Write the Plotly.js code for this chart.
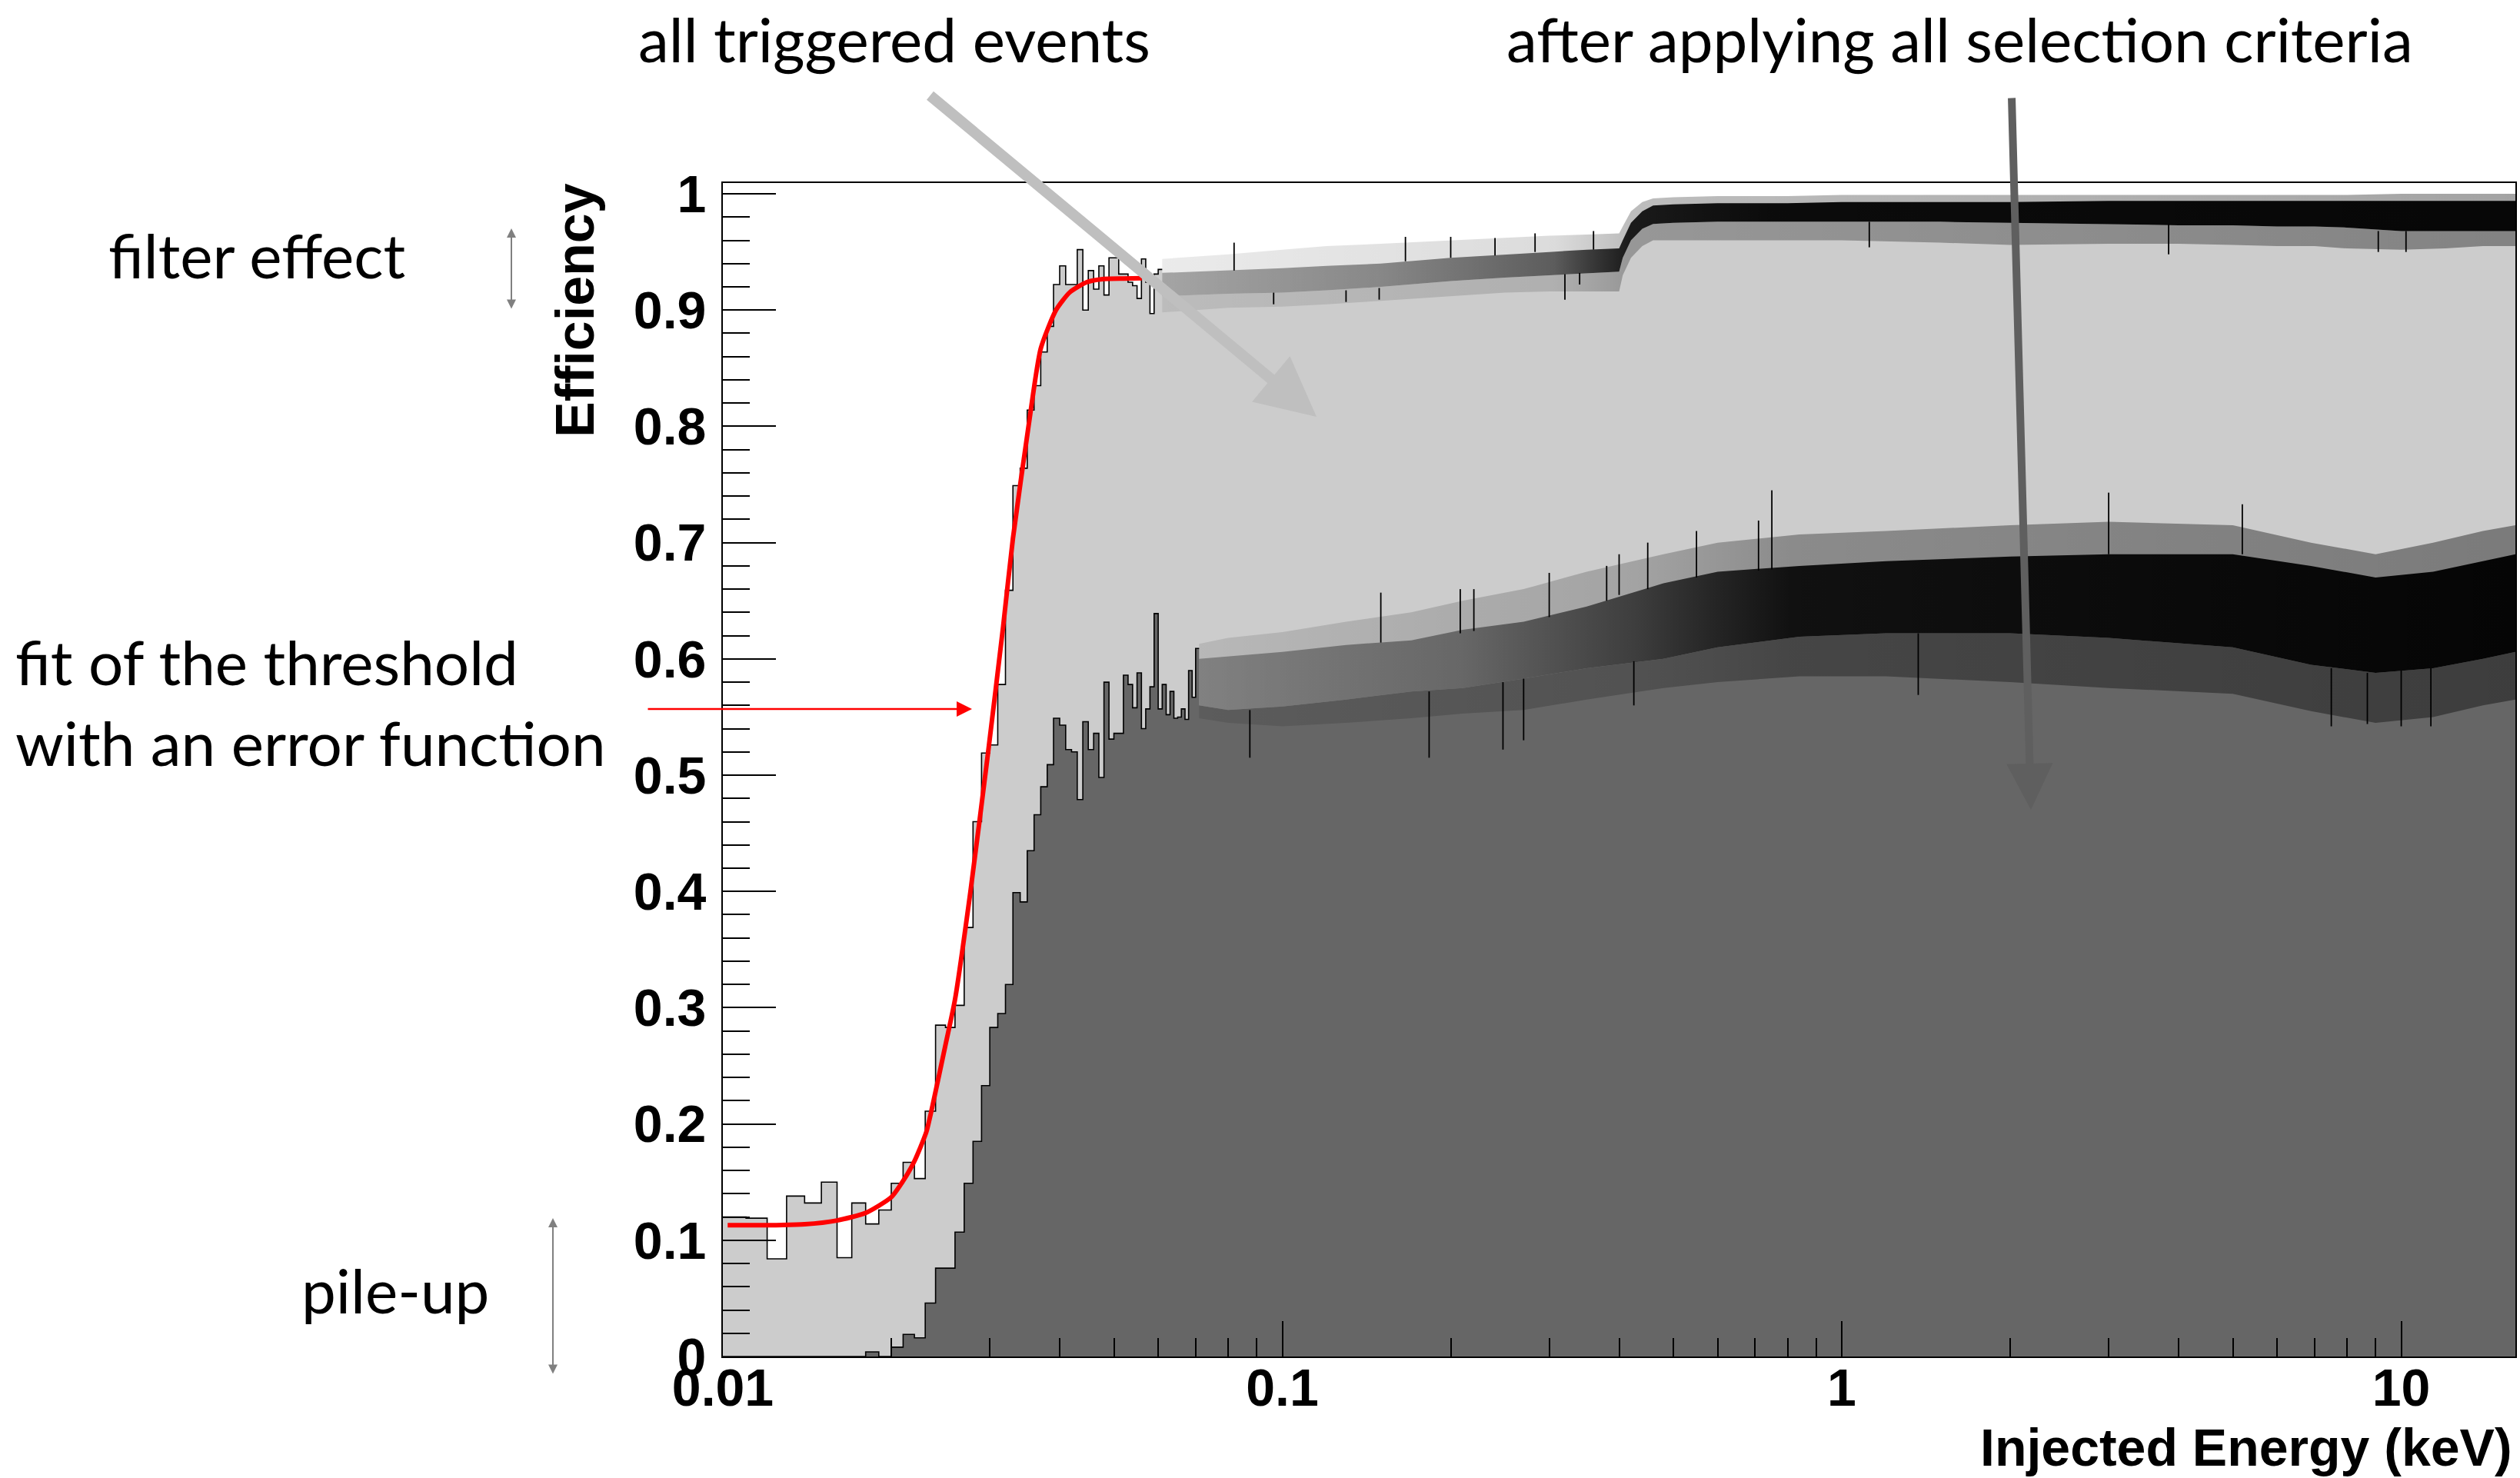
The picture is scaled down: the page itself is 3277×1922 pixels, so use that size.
<!DOCTYPE html>
<html><head><meta charset="utf-8">
<script src="https://cdn.plot.ly/plotly-3.0.1.min.js"></script>
<style>html,body{margin:0;padding:0;background:#fff;} #chart{width:3277px;height:1922px;}</style>
</head><body><div id="chart"></div>
<script>
// ---------------- DATA ----------------
// "all triggered events": individually readable 1 eV bins (left edges, keV)
const upperBinE = [0.010,0.011,0.012,0.013,0.014,0.015,0.016,0.017,0.018,0.019,
  0.020,0.021,0.022,0.023,0.024,0.025,0.026,0.027,0.028,0.029,
  0.030,0.031,0.032,0.033,0.034,0.035,0.036,0.037,0.038,0.039,
  0.040,0.041,0.042,0.043,0.044,0.045,0.046,0.047,0.048,0.049,
  0.050,0.051,0.052,0.053,0.054,0.055,0.056,0.057,0.058,0.059,0.060];
const upperBinEff = [0.120,0.119,0.084,0.138,0.132,0.150,0.085,0.132,0.114,0.126,
  0.149,0.167,0.153,0.211,0.285,0.283,0.302,0.369,0.460,0.519,
  0.526,0.578,0.659,0.749,0.764,0.814,0.835,0.864,0.886,0.922,
  0.938,0.922,0.922,0.952,0.900,0.934,0.918,0.938,0.913,0.945,
  0.945,0.931,0.931,0.924,0.921,0.910,0.944,0.924,0.897,0.931,0.935];
const upperLastEdge = 0.061;

// "all triggered events": dense region, envelopes
const upperEnvE     = [0.061,0.07,0.08,0.10,0.12,0.15,0.20,0.25,0.30,0.35,0.40,0.406,0.42,0.44,0.46,0.50,0.60,0.80,1.0,1.5,2,3,4,5,6,7,8,10,12,14,16];
const upperEnvHi    = [0.944,0.946,0.948,0.952,0.955,0.957,0.960,0.962,0.964,0.965,0.966,0.972,0.985,0.993,0.996,0.997,0.998,0.998,0.999,0.999,0.999,0.999,0.999,0.999,0.999,0.999,0.999,1.000,1.000,1.000,1.000];
const upperEnvCoreHi= [0.932,0.933,0.934,0.936,0.938,0.940,0.945,0.948,0.950,0.952,0.953,0.960,0.975,0.985,0.990,0.991,0.992,0.992,0.993,0.993,0.993,0.994,0.994,0.994,0.994,0.994,0.994,0.994,0.994,0.994,0.994];
const upperEnvCoreLo= [0.912,0.913,0.914,0.915,0.917,0.920,0.925,0.928,0.930,0.932,0.933,0.945,0.960,0.970,0.974,0.975,0.976,0.976,0.976,0.976,0.975,0.974,0.973,0.973,0.972,0.972,0.971,0.968,0.968,0.968,0.968];
const upperEnvLo    = [0.898,0.900,0.902,0.903,0.905,0.908,0.912,0.915,0.916,0.916,0.916,0.930,0.945,0.955,0.960,0.960,0.960,0.960,0.960,0.958,0.956,0.957,0.957,0.956,0.955,0.955,0.953,0.952,0.953,0.955,0.955];
// isolated tall bins standing out of the band (energy, band edge, tip)
const upperSpikeE   = [0.082,0.0965,0.130,0.149,0.166,0.200,0.240,0.283,0.320,0.340,0.360,1.12,3.84,9.1,10.2];
const upperSpikeBase= [0.934,0.915,0.917,0.919,0.942,0.945,0.947,0.950,0.931,0.932,0.952,0.976,0.974,0.968,0.968];
const upperSpikeTip = [0.958,0.905,0.907,0.909,0.963,0.963,0.962,0.966,0.909,0.922,0.968,0.954,0.948,0.950,0.950];

// "after applying all selection criteria": readable bins
const lowerBinE = [0.010,0.011,0.012,0.013,0.014,0.015,0.016,0.017,0.018,0.019,
  0.020,0.021,0.022,0.023,0.024,0.025,0.026,0.027,0.028,0.029,
  0.030,0.031,0.032,0.033,0.034,0.035,0.036,0.037,0.038,0.039,
  0.040,0.041,0.042,0.043,0.044,0.045,0.046,0.047,0.048,0.049,
  0.050,0.051,0.052,0.053,0.054,0.055,0.056,0.057,0.058,0.059,
  0.060,0.061,0.062,0.063,0.064,0.065,0.066,0.067,0.068,0.069,0.070];
const lowerBinEff = [0,0,0,0,0,0,0,0,0.004,0,
  0.008,0.019,0.016,0.046,0.076,0.076,0.107,0.149,0.185,0.233,
  0.283,0.295,0.320,0.399,0.391,0.435,0.466,0.490,0.509,0.549,
  0.543,0.522,0.520,0.479,0.546,0.522,0.536,0.498,0.580,0.531,
  0.536,0.536,0.586,0.578,0.558,0.588,0.540,0.557,0.576,0.639,
  0.557,0.578,0.552,0.572,0.549,0.550,0.557,0.548,0.590,0.567,0.609];
const lowerLastEdge = 0.071;

const lowerEnvE     = [0.071,0.08,0.10,0.13,0.17,0.21,0.27,0.35,0.48,0.60,0.84,1.2,2.0,3.0,5.0,6.9,9.0,11.4,14,16];
const lowerEnvHi    = [0.613,0.618,0.623,0.632,0.640,0.650,0.660,0.675,0.690,0.700,0.707,0.710,0.715,0.718,0.715,0.700,0.690,0.700,0.710,0.715];
const lowerEnvCoreHi= [0.600,0.602,0.606,0.612,0.616,0.625,0.632,0.645,0.665,0.675,0.680,0.684,0.688,0.690,0.690,0.680,0.670,0.675,0.684,0.690];
const lowerEnvCoreLo= [0.560,0.556,0.559,0.565,0.572,0.575,0.583,0.592,0.600,0.610,0.619,0.622,0.622,0.618,0.610,0.595,0.588,0.592,0.600,0.606];
const lowerEnvLo    = [0.549,0.545,0.542,0.545,0.549,0.553,0.556,0.565,0.575,0.580,0.585,0.585,0.580,0.575,0.570,0.555,0.545,0.550,0.560,0.565];
const lowerSpikeE   = [0.0875,0.150,0.183,0.208,0.220,0.248,0.270,0.300,0.380,0.400,0.425,0.450,0.550,0.710,0.750,1.37,3.00,5.20,7.5,8.7,10.0,11.3];
const lowerSpikeBase= [0.556,0.614,0.572,0.622,0.624,0.580,0.583,0.636,0.650,0.655,0.598,0.660,0.670,0.676,0.677,0.622,0.690,0.690,0.592,0.588,0.590,0.592];
const lowerSpikeTip = [0.515,0.657,0.515,0.660,0.660,0.522,0.530,0.674,0.680,0.690,0.560,0.700,0.710,0.719,0.745,0.569,0.743,0.733,0.542,0.544,0.542,0.542];

// error-function fit of the threshold
const fitE   = [0.0102,0.0120,0.0140,0.0160,0.0180,0.0200,0.0210,0.0220,0.0231,0.0237,0.0250,0.0260,0.0277,0.0298,0.0317,0.0330,0.0352,0.0370,0.0394,0.0417,0.0447,0.0480,0.0520,0.0561];
const fitEff = [0.113,0.113,0.1137,0.117,0.1235,0.137,0.151,0.168,0.193,0.2156,0.268,0.307,0.3996,0.520,0.628,0.7037,0.8007,0.8669,0.900,0.9153,0.924,0.9268,0.9272,0.9274];

// axis ticks
const xMajorTicks = [0.01,0.1,1,10];
const xMajorText  = ['0.01','0.1','1','10'];
const xMinorTicks = [0.02,0.03,0.04,0.05,0.06,0.07,0.08,0.09,0.2,0.3,0.4,0.5,0.6,0.7,0.8,0.9,2,3,4,5,6,7,8,9];
const yMajorTicks = [0,0.1,0.2,0.3,0.4,0.5,0.6,0.7,0.8,0.9,1];
const yMajorText  = ['0','0.1','0.2','0.3','0.4','0.5','0.6','0.7','0.8','0.9','1'];
const yMinorTicks = [0.02,0.04,0.06,0.08,0.12,0.14,0.16,0.18,0.22,0.24,0.26,0.28,0.32,0.34,0.36,0.38,0.42,0.44,0.46,0.48,0.52,0.54,0.56,0.58,0.62,0.64,0.66,0.68,0.72,0.74,0.76,0.78,0.82,0.84,0.86,0.88,0.92,0.94,0.96,0.98];

// ---------------- STYLE / GEOMETRY ----------------
const W = 3277, H = 1922;
const M = {l:940, r:6, t:238, b:158};
const PW = W - M.l - M.r, PH = H - M.t - M.b;
const px = x => (x - M.l) / PW;
const py = y => (H - M.b - y) / PH;
const LIGHT = '#cccccc', DARK = '#666666';
const k = a => `rgba(0,0,0,${a})`;
// darkness of the noise band along x (fraction of the band's horizontal extent)
const upperInnerScale = [[0,k(0.30)],[0.16,k(0.40)],[0.29,k(0.58)],[0.345,k(0.86)],[0.45,k(0.94)],[1,k(0.96)]];
const upperOuterScale = [[0,k(0.08)],[0.29,k(0.14)],[0.345,k(0.26)],[1,k(0.36)]];
const lowerInnerScale = [[0,k(0.30)],[0.20,k(0.40)],[0.33,k(0.62)],[0.45,k(0.88)],[1,k(0.96)]];
const lowerOuterScale = [[0,k(0.10)],[0.33,k(0.20)],[0.45,k(0.32)],[1,k(0.40)]];

function stepPath(xs, ys, lastEdge) {
  const X = [], Y = [];
  for (let i = 0; i < xs.length; i++) {
    const x1 = (i + 1 < xs.length) ? xs[i+1] : lastEdge;
    X.push(xs[i], x1); Y.push(ys[i], ys[i]);
  }
  return {X, Y};
}
function fillTrace(xs, ys, color) {
  return {x: xs, y: ys, type:'scatter', mode:'lines', line:{width:0, color:'rgba(0,0,0,0)'}, fill:'tozeroy', fillcolor: color, hoverinfo:'skip'};
}
function outline(xs, ys) {
  return {x: xs, y: ys, type:'scatter', mode:'lines', line:{color:'#000', width:1.6}, hoverinfo:'skip'};
}
function line0(xs, ys) {
  return {x: xs, y: ys, type:'scatter', mode:'lines', line:{width:0, color:'rgba(0,0,0,0)'}, hoverinfo:'skip'};
}
function gradBand(xs, lo, hi, scale, fallback) {
  const top = line0(xs, hi);
  top.fill = 'tonexty';
  top.fillcolor = fallback;
  top.fillgradient = {type:'horizontal', colorscale: scale};
  return [line0(xs, lo), top];
}
function spikes(E, base, tip) {
  const X = [], Y = [];
  E.forEach((e, i) => { X.push(e, e, null); Y.push(base[i], tip[i], null); });
  return {x: X, y: Y, type:'scatter', mode:'lines', line:{color:'#000', width:1.8}, connectgaps:false, hoverinfo:'skip'};
}

const traces = [];
// all triggered events
const uStep = stepPath(upperBinE, upperBinEff, upperLastEdge);
traces.push(fillTrace(uStep.X.concat(upperEnvE), uStep.Y.concat(upperEnvCoreLo), LIGHT));
traces.push(outline(uStep.X, uStep.Y));
traces.push(...gradBand(upperEnvE, upperEnvLo, upperEnvHi, upperOuterScale, k(0.25)));
traces.push(...gradBand(upperEnvE, upperEnvCoreLo, upperEnvCoreHi, upperInnerScale, k(0.8)));
traces.push(spikes(upperSpikeE, upperSpikeBase, upperSpikeTip));
// after applying all selection criteria
const lStep = stepPath(lowerBinE, lowerBinEff, lowerLastEdge);
traces.push(fillTrace(lStep.X.concat(lowerEnvE), lStep.Y.concat(lowerEnvCoreLo), DARK));
traces.push(outline(lStep.X, lStep.Y));
traces.push(...gradBand(lowerEnvE, lowerEnvLo, lowerEnvHi, lowerOuterScale, k(0.3)));
traces.push(...gradBand(lowerEnvE, lowerEnvCoreLo, lowerEnvCoreHi, lowerInnerScale, k(0.8)));
traces.push(spikes(lowerSpikeE, lowerSpikeBase, lowerSpikeTip));
// fit
traces.push({x: fitE, y: fitEff, type:'scatter', mode:'lines', line:{color:'#ff0000', width:6, shape:'spline', smoothing:0.6}, hoverinfo:'skip'});

const TXT = {family:'Lato, "Open Sans", sans-serif', size:80, color:'#000'};
const BOLD = {family:'"Liberation Sans", Arial, Helvetica, sans-serif', size:68, color:'#000', weight:'bold'};

function txt(text, x, y, xanchor) {
  return {text:text, xref:'paper', yref:'paper', x:px(x), y:py(y), xanchor:xanchor, yanchor:'middle', showarrow:false, font:TXT, borderpad:0};
}
function arrow(tipX, tipY, tailX, tailY, color, width, head, size, extra) {
  return Object.assign({text:'', xref:'paper', yref:'paper', x:px(tipX), y:py(tipY), ax:tailX-tipX, ay:tailY-tipY,
    showarrow:true, arrowcolor:color, arrowwidth:width, arrowhead:head, arrowsize:size, standoff:0, startstandoff:0}, extra||{});
}

const annotations = [
  txt('all triggered events', 1163, 50, 'center'),
  txt('after applying all selection criteria', 2548, 50, 'center'),
  txt('filter effect', 140, 331, 'left'),
  txt('fit of the threshold', 19, 860, 'left'),
  txt('with an error function', 19, 965, 'left'),
  txt('pile-up', 391, 1677, 'left'),
  {text:'Efficiency', xref:'paper', yref:'paper', x:px(748), y:py(404), xanchor:'center', yanchor:'middle', textangle:-90, showarrow:false, font:Object.assign({}, BOLD, {size:70}), borderpad:0},
  {text:'Injected Energy (keV)', xref:'paper', yref:'paper', x:px(3268), y:py(1882), xanchor:'right', yanchor:'middle', showarrow:false, font:BOLD, borderpad:0},
  arrow(1712, 542, 1208, 123, '#bfbfbf', 14, 2, 1.1),
  arrow(2641, 1053, 2616, 126, '#5f5f5f', 10, 2, 1.2),
  arrow(1264, 922, 841, 922, '#ff0000', 2.5, 2, 1.6),
  arrow(665, 297, 665, 403, '#808080', 2, 2, 1.2, {arrowside:'end+start'}),
  arrow(719, 1584, 719, 1788, '#808080', 2, 2, 1.2, {arrowside:'end+start'})
];

const tickFont = {family:'"Liberation Sans", Arial, Helvetica, sans-serif', size:68, color:'#000', weight:'bold'};

const layout = {
  width:W, height:H, margin:{l:M.l, r:M.r, t:M.t, b:M.b, pad:0},
  paper_bgcolor:'#fff', plot_bgcolor:'#fff', showlegend:false,
  xaxis:{type:'log', range:[-2, Math.log10(16)], showgrid:false, zeroline:false,
    showline:true, linecolor:'#000', linewidth:2, mirror:true,
    ticks:'inside', ticklen:46, tickwidth:2, tickcolor:'#000',
    tickmode:'array', tickvals:xMajorTicks, ticktext:xMajorText, tickfont:tickFont, ticklabelstandoff:-20,
    minor:{tickmode:'array', tickvals:xMinorTicks, ticks:'inside', ticklen:24, tickwidth:2, tickcolor:'#000', showgrid:false}},
  yaxis:{range:[0, 1.0093], showgrid:false, zeroline:false,
    showline:true, linecolor:'#000', linewidth:2, mirror:true,
    ticks:'inside', ticklen:69, tickwidth:2, tickcolor:'#000',
    tickmode:'array', tickvals:yMajorTicks, ticktext:yMajorText, tickfont:tickFont, ticklabelstandoff:6,
    minor:{tickmode:'array', tickvals:yMinorTicks, ticks:'inside', ticklen:35, tickwidth:2, tickcolor:'#000', showgrid:false}},
  annotations: annotations
};

Plotly.newPlot('chart', traces, layout, {staticPlot:true, displayModeBar:false});
</script></body></html>
